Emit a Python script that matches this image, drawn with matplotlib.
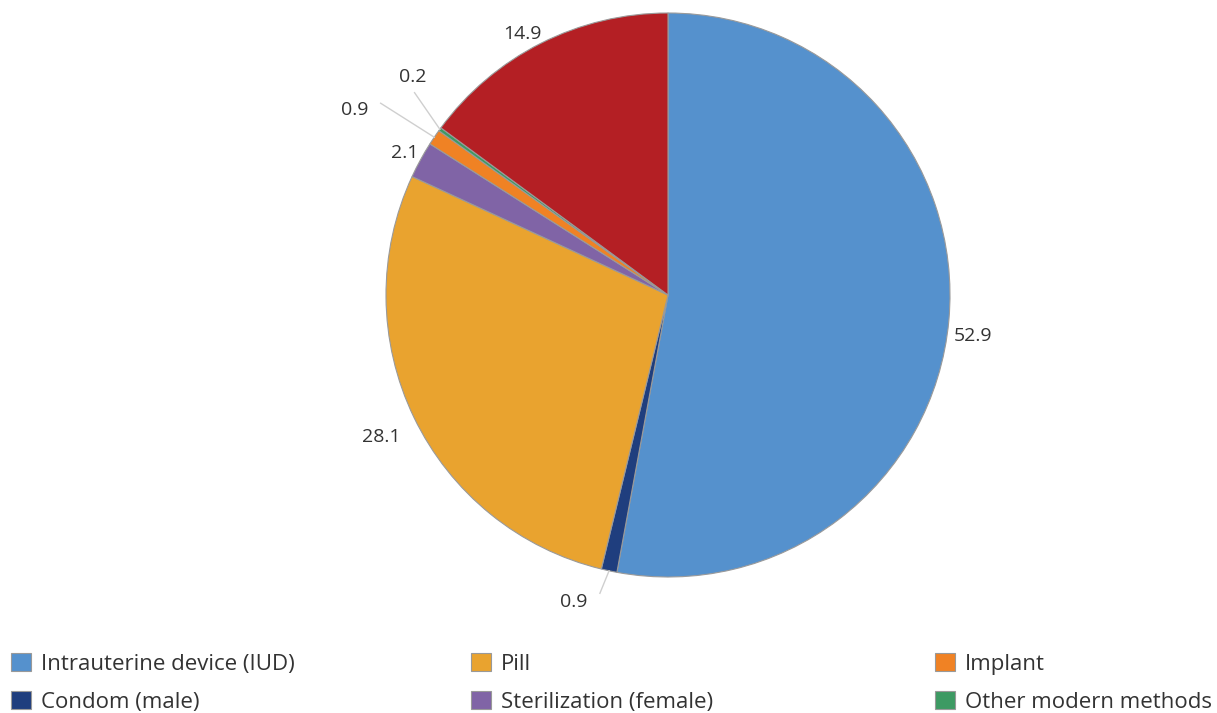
import numpy as np
import matplotlib
matplotlib.use("Agg")
import matplotlib.pyplot as plt
from matplotlib.patches import Patch

plt.rcParams["font.family"] = ["Open Sans", "DejaVu Sans"]

# contraceptive method mix (%), clockwise from 12 o'clock
methods = ["Intrauterine device (IUD)", "Condom (male)", "Pill",
           "Sterilization (female)", "Implant", "Other modern methods",
           "Traditional methods"]
shares = [52.9, 0.9, 28.1, 2.1, 0.9, 0.2, 14.9]
colors = ["#5591CD", "#1F3E7E", "#E9A32F", "#8064A6", "#F08224", "#3D9A63", "#B41F24"]
in_legend = [True, True, True, True, True, True, False]

# label placement: radius (pie = 1), angular nudge in degrees
lab_r = [1.09, 1.14, 1.135, 1.06, 1.29, 1.19, 1.06]
lab_da = [-2.5, -5.0, 0.5, 0.3, 3.4, -4.5, 2.3]
# leader lines for the thin slices: end radius and angular nudge (None = no line)
lead_r = [None, 1.085, None, None, 1.225, 1.15, None]
lead_da = [0, -0.8, 0, 0, 0.3, -2.6, 0]

W, H = 1217, 713
fig = plt.figure(figsize=(W / 100, H / 100), dpi=100)
cx, cy, R = 668, 295, 282
ax = fig.add_axes([(cx - R) / W, (H - cy - R) / H, 2 * R / W, 2 * R / H])

ax.pie(shares, colors=colors, startangle=90, counterclock=False,
       radius=1.0, center=(0, 0), frame=False,
       wedgeprops=dict(edgecolor="#9a9a9a", linewidth=0.8))
ax.set_xlim(-1, 1); ax.set_ylim(-1, 1)
ax.set_aspect("equal"); ax.axis("off")

cum = np.cumsum([0] + shares)
total = cum[-1]
for i, v in enumerate(shares):
    mid = 90 - 360 * (cum[i] + v / 2) / total
    if lead_r[i] is not None:
        m = np.deg2rad(mid)
        e = np.deg2rad(mid + lead_da[i])
        ax.plot([np.cos(m), lead_r[i] * np.cos(e)], [np.sin(m), lead_r[i] * np.sin(e)],
                color="#cfcfcf", lw=1, clip_on=False)
    a = np.deg2rad(mid + lab_da[i])
    ax.text(lab_r[i] * np.cos(a), lab_r[i] * np.sin(a), f"{v:.1f}",
            ha="center", va="center", fontsize=14, color="#333333", clip_on=False)

cols = [[0, 1], [2, 3], [4, 5]]
col_x = [11, 471, 935]
for idx, x in zip(cols, col_x):
    handles = [Patch(facecolor=colors[k], edgecolor="#999999", linewidth=0.8)
               for k in idx if in_legend[k]]
    labels = [methods[k] for k in idx if in_legend[k]]
    fig.legend(handles, labels, loc="upper left", bbox_to_anchor=(x / W, 1 - 653 / H),
               frameon=False, fontsize=16, handlelength=0.9, handleheight=0.9,
               handletextpad=0.45, labelspacing=0.72, borderaxespad=0,
               borderpad=0, labelcolor="#333333")

fig.savefig("out.png", dpi=100)
